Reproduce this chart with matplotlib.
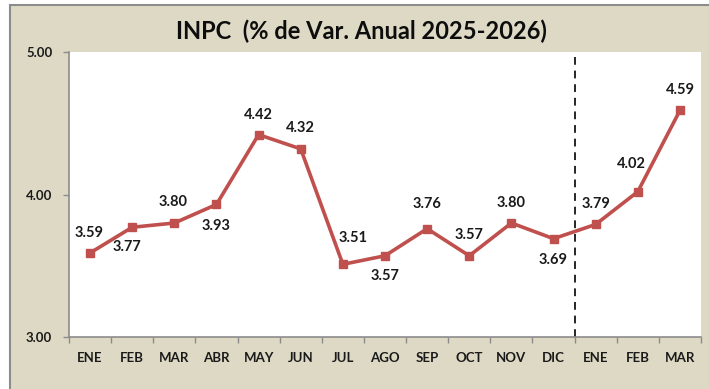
import matplotlib
matplotlib.use("Agg")
import matplotlib.pyplot as plt
from matplotlib.patches import Rectangle

# monthly INPC, annual % change
meses = ["ENE", "FEB", "MAR", "ABR", "MAY", "JUN", "JUL", "AGO", "SEP",
         "OCT", "NOV", "DIC", "ENE", "FEB", "MAR"]
inpc = [3.59, 3.77, 3.80, 3.93, 4.42, 4.32, 3.51, 3.57, 3.76,
        3.57, 3.80, 3.69, 3.79, 4.02, 4.59]

# label offsets (pixels) from each point
offsets = [(-1, 20), (-5, -20), (-1, 21), (0, -22), (0, 20), (0, 21),
           (10, 26), (0, -20), (0, 25), (0, 21), (0, 20), (0, -21),
           (0, 20), (-6, 28), (0, 20)]

plt.rcParams["font.family"] = ["Lato", "DejaVu Sans"]

fig = plt.figure(figsize=(7.09, 3.89), dpi=100)
fig.patch.set_facecolor("white")
fig.patches.append(Rectangle((10 / 709, -0.1), 1.1, 1.1 - 5 / 389,
                             transform=fig.transFigure, facecolor="#ddd9c4",
                             edgecolor="#8c8c8c", linewidth=1.5, zorder=-10))

ax = fig.add_axes([69 / 709, 52 / 389, 632 / 709, 285 / 389])
ax.set_facecolor("white")

x = list(range(len(meses)))
ax.plot(x, inpc, color="#c0504d", linewidth=2.6, marker="s",
        markersize=6, zorder=3)

for i, v in enumerate(inpc):
    ax.annotate(f"{v:.2f}", (i, v), xytext=offsets[i],
                textcoords="offset pixels", ha="center", va="center",
                fontsize=10.5, fontweight="bold", color="#1a1a1a")

# split between 2025 and 2026
ax.plot([11.5, 11.5], [3.0, 4.97], color="#262626", linestyle=(0, (4, 3)),
        linewidth=1.4, zorder=2)

ax.set_xlim(-0.5, len(meses) - 0.5)
ax.set_ylim(3.0, 5.0)
ax.set_yticks([3.0, 4.0, 5.0])
ax.set_yticklabels(["3.00", "4.00", "5.00"])
ax.set_xticks(x)
ax.set_xticklabels(meses)
ax.set_xticks([i + 0.5 for i in range(-1, len(meses))], minor=True)
ax.tick_params(axis="x", which="major", length=0, pad=11)
ax.tick_params(axis="x", which="minor", length=4, width=1, color="#8c8c8c")
ax.tick_params(axis="y", length=4, width=1, color="#8c8c8c", pad=8)
for lab in ax.get_xticklabels() + ax.get_yticklabels():
    lab.set_fontsize(9.5)
    lab.set_fontweight("bold")
    lab.set_color("#1a1a1a")

for side in ["top", "right"]:
    ax.spines[side].set_visible(False)
for side in ["left", "bottom"]:
    ax.spines[side].set_color("#8c8c8c")
    ax.spines[side].set_linewidth(1.2)

fig.text(361 / 709, 1 - 31 / 389, "INPC  (% de Var. Anual 2025-2026)",
         ha="center", va="center", fontsize=17, fontweight="bold",
         color="#0d0d0d")

fig.savefig("out.png", dpi=100, facecolor=fig.get_facecolor())
